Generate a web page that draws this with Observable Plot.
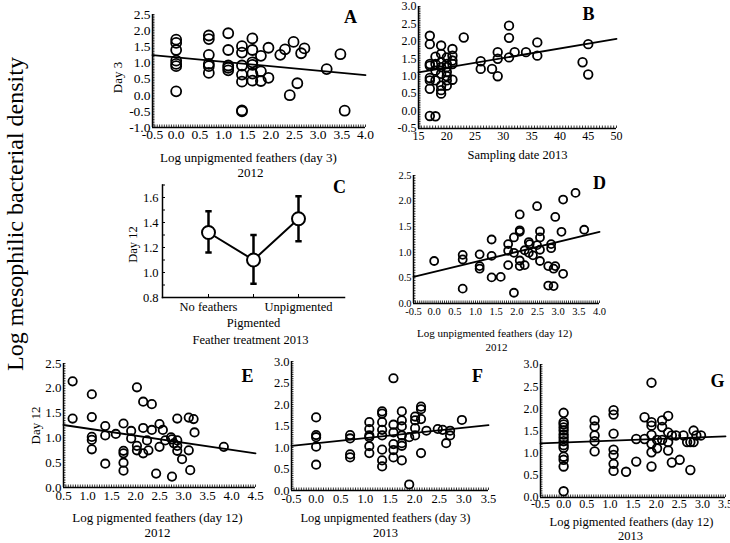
<!DOCTYPE html>
<html><head><meta charset="utf-8">
<script src="https://cdn.jsdelivr.net/npm/d3@7"></script>
<script src="https://cdn.jsdelivr.net/npm/@observablehq/plot@0.6"></script>
<style>
body{margin:0;background:white;}
#chart{position:relative;width:730px;height:543px;overflow:hidden;font-family:"Liberation Serif","Times New Roman",serif;color:black;}
#chart svg{position:absolute;left:0;top:0;}
#ylab{position:absolute;left:15px;top:214px;transform:translate(-50%,-50%) rotate(-90deg);font-size:24px;white-space:nowrap;}
</style></head><body>
<div id="chart"><div id="ylab">Log mesophilic bacterial density</div></div>
<script>
// ---------- DATA ----------
// Panel A: 2012, log unpigmented feathers (day 3) vs day-3 density
const aPts = [[0,1.72],[0,1.62],[0,1.40],[0,1.07],[0,0.97],[0,0.90],[0,0.12],
  [0.69,1.85],[0.69,1.74],[0.69,1.25],[0.69,0.97],[0.69,0.90],[0.69,0.69],
  [1.10,1.92],[1.10,1.40],[1.10,0.92],[1.10,0.85],[1.10,0.77],
  [1.39,1.52],[1.39,1.32],[1.39,0.92],[1.39,0.64],[1.39,0.42],[1.39,-0.50],[1.39,-0.47],
  [1.61,1.76],[1.61,1.40],[1.61,1.02],[1.61,0.94],[1.61,0.67],[1.61,0.45],
  [1.79,1.22],[1.79,0.74],[1.79,0.44],[1.95,1.47],[1.95,0.54],
  [2.20,1.25],[2.30,1.42],[2.40,0.00],[2.48,1.65],[2.56,0.37],[2.64,1.30],[2.71,1.45],
  [3.18,0.81],[3.47,1.27],[3.56,-0.48]];
const aLineX = [-0.5, 4.0], aLineY = [1.24, 0.62];
const aTicksX = [-0.5,0,0.5,1,1.5,2,2.5,3,3.5,4];
const aTicksY = [-1,-0.5,0,0.5,1,1.5,2,2.5];

// Panel B: sampling date 2013
const bPts = [[17,2.16],[17,1.92],[17,1.35],[17,1.30],[17,0.95],[17,0.88],[17,0.64],[17,-0.14],
  [18,1.56],[18,1.35],[18,1.16],[18,0.88],[18,-0.15],
  [19,1.88],[19,1.64],[19,1.40],[19,1.26],[19,1.07],[19,0.73],[19,0.60],[19,0.50],
  [20,1.54],[20,1.35],[20,1.26],[20,1.12],[20,1.00],[20,0.88],[20,0.73],
  [21,1.78],[21,1.59],[21,1.45],[21,1.35],[21,0.90],
  [23,2.11],[26,1.43],[26,1.21],[28,1.21],[29,1.69],[29,1.50],[29,1.00],
  [31,2.45],[31,2.10],[31,1.54],[32,1.69],[34,1.69],[36,1.97],[36,1.59],
  [44,1.40],[45,1.92],[45,1.05]];
const bLineX = [15, 50], bLineY = [1.11, 2.07];
const bTicksX = [15,20,25,30,35,40,45,50];
const bTicksY = [-0.5,0,0.5,1,1.5,2,2.5,3];

// Panel C: feather treatment 2013 (means and error bars)
const cCats = ["No feathers", "Pigmented", "Unpigmented"];
const cMean = [1.32, 1.10, 1.43];
const cLo = [1.16, 0.91, 1.25];
const cHi = [1.49, 1.30, 1.61];
const cTicksY = [0.8,1.0,1.2,1.4,1.6];

// Panel D: 2012, log unpigmented feathers (day 12)
const dPts = [[0,0.83],[0.69,0.95],[0.69,0.86],[0.69,0.29],
  [1.10,0.96],[1.10,0.73],[1.10,0.68],[1.39,1.25],[1.39,0.93],[1.39,0.51],[1.61,0.52],
  [1.79,1.16],[1.79,1.03],[1.79,0.75],[1.93,1.29],[1.93,0.99],[1.93,0.21],
  [2.07,1.74],[2.07,1.43],[2.07,1.40],[2.07,0.84],[2.07,0.73],[2.19,1.04],[2.19,0.75],
  [2.29,1.20],[2.31,1.16],[2.29,0.99],[2.39,0.94],[2.49,1.90],[2.49,1.14],
  [2.56,1.41],[2.56,1.29],[2.56,1.05],[2.56,0.83],[2.76,0.73],[2.76,0.35],
  [2.83,1.16],[2.83,1.08],[2.89,0.68],[2.89,0.34],[2.93,1.69],[2.93,0.73],
  [3.08,1.40],[3.12,0.58],[3.12,2.03],[3.42,2.16],[3.63,1.44]];
const dLineX = [-0.5, 4.0], dLineY = [0.52, 1.40];
const dTicksX = [-0.5,0,0.5,1,1.5,2,2.5,3,3.5,4];
const dTicksY = [0,0.5,1,1.5,2,2.5];

// Panel E: 2012, log pigmented feathers (day 12)
const ePts = [[0.69,2.14],[0.69,1.39],[1.09,1.88],[1.09,1.42],[1.09,1.02],[1.09,0.96],[1.09,0.77],
  [1.37,1.24],[1.37,1.05],[1.37,0.48],[1.59,1.08],
  [1.75,1.29],[1.75,0.74],[1.75,0.69],[1.75,0.50],[1.75,0.34],[1.91,1.14],[1.91,0.99],
  [2.03,2.02],[2.03,0.84],[2.03,0.75],[2.16,1.73],[2.16,1.20],[2.16,0.69],
  [2.24,0.95],[2.27,0.75],[2.34,1.68],[2.34,1.16],[2.43,0.28],[2.50,1.28],[2.50,0.82],
  [2.57,1.16],[2.62,0.95],[2.74,1.01],[2.76,0.97],[2.76,0.22],[2.80,0.89],
  [2.87,1.39],[2.87,0.95],[2.87,0.84],[2.87,0.74],[2.97,0.57],
  [3.11,1.41],[3.11,0.75],[3.14,0.35],[3.21,1.38],[3.23,1.11],[3.84,0.82]];
const eLineX = [0.5, 4.5], eLineY = [1.26, 0.69];
const eTicksX = [0.5,1,1.5,2,2.5,3,3.5,4,4.5];
const eTicksY = [0,0.5,1,1.5,2,2.5];

// Panel F: 2013, log unpigmented feathers (day 3)
const fPts = [[0,1.70],[0,1.29],[0,1.24],[0,1.02],[0,0.60],
  [0.69,1.29],[0.69,1.21],[0.69,0.84],[0.69,0.77],
  [1.08,1.59],[1.08,1.43],[1.08,1.28],[1.08,1.24],[1.08,1.03],[1.08,0.87],
  [1.34,1.84],[1.34,1.79],[1.34,1.59],[1.34,1.41],[1.34,1.28],[1.34,0.95],[1.34,0.70],[1.34,0.56],
  [1.57,2.61],[1.57,1.53],[1.57,1.35],[1.57,1.08],[1.57,0.94],[1.57,0.77],
  [1.74,1.84],[1.74,1.63],[1.74,1.49],[1.74,1.28],[1.74,1.10],[1.74,1.04],[1.74,0.70],
  [1.89,1.24],[1.89,0.14],[2.01,1.72],[2.01,1.63],[2.01,1.45],[2.01,1.28],
  [2.13,1.95],[2.13,1.89],[2.13,1.66],[2.13,0.87],[2.24,1.39],[2.47,1.43],[2.57,1.41],
  [2.64,1.10],[2.72,1.39],[2.72,1.28],[2.96,1.64]];
const fLineX = [-0.5, 3.5], fLineY = [1.04, 1.52];
const fTicksX = [-0.5,0,0.5,1,1.5,2,2.5,3,3.5];
const fTicksY = [0,0.5,1,1.5,2,2.5,3];

// Panel G: 2013, log pigmented feathers (day 12)
const gPts = [[0,1.91],[0,1.70],[0,1.65],[0,1.58],[0,1.51],[0,1.42],[0,1.35],[0,1.27],[0,1.18],[0,1.12],
  [0,0.92],[0,0.85],[0,0.70],[0,0.14],
  [0.67,1.74],[0.67,1.60],[0.67,1.40],[0.67,1.27],[0.67,1.04],
  [1.08,1.97],[1.08,1.87],[1.08,1.44],[1.08,1.08],[1.08,0.96],[1.08,0.76],[1.08,0.60],
  [1.35,0.58],[1.57,1.32],[1.57,0.81],[1.75,1.81],[1.75,1.32],
  [1.90,2.59],[1.90,1.70],[1.90,1.62],[1.90,1.41],[1.90,1.21],[1.90,1.02],[1.90,0.70],
  [2.02,1.30],[2.02,1.11],[2.13,1.74],[2.13,1.59],[2.13,1.30],
  [2.26,1.84],[2.26,1.47],[2.26,1.25],[2.26,1.06],[2.34,1.40],[2.34,0.79],[2.43,1.40],
  [2.51,0.85],[2.59,1.40],[2.67,1.25],[2.74,1.25],[2.74,0.62],[2.81,1.51],[2.81,1.25],
  [2.87,1.40],[2.97,1.40]];
const gLineX = [-0.5, 3.5], gLineY = [1.22, 1.38];
const gTicksX = [-0.5,0,0.5,1,1.5,2,2.5,3,3.5];
const gTicksY = [0,0.5,1,1.5,2,2.5,3];

// ---------- LAYOUT ----------
const W = 730, H = 543;
const FONT = '"Liberation Serif","Times New Roman",serif';
const fmt1 = d => d.toFixed(1);
const fmt0 = d => String(d);
const chart = document.getElementById("chart");

function textAt(txt, anchor, dx, dy, size, extra = {}) {
  return Plot.text([txt], {text: d => d, frameAnchor: anchor, dx, dy, fontSize: size,
    textAnchor: "middle", lineAnchor: "middle", ...extra});
}

function scatterPanel(o) {
  const [l, t, r, b] = o.frame;
  const iw = r - l, ih = b - t, cx = (l + r) / 2, cy = (t + b) / 2;
  const minorX = d3.range(o.xDomain[0], o.xDomain[1] + 1e-9, o.minorX);
  const minorY = d3.range(o.yDomain[0], o.yDomain[1] + 1e-9, o.minorY);
  const marks = [
    Plot.tickX(minorX, {x: d => d, insetTop: ih - 2.5, strokeWidth: 0.8}),
    Plot.tickY(minorY, {y: d => d, insetRight: iw - 2.5, strokeWidth: 0.8}),
    Plot.ruleX([o.xDomain[0]], {strokeWidth: 1.5}),
    Plot.ruleY([o.yDomain[0]], {strokeWidth: 1.5}),
    Plot.line(o.lineX, {x: o.lineX, y: o.lineY, strokeWidth: 1.8}),
    Plot.dot(o.pts, {x: d => d[0], y: d => d[1], r: o.r, fill: "none", stroke: "black", strokeWidth: 1.8}),
    textAt(o.letter[0], "top-left", o.letter[1] - l, o.letter[2] - t, 18, {fontWeight: "bold"})
  ];
  for (const [txt, x, y] of o.xTitles) marks.push(textAt(txt, "bottom", x - cx, y - b, o.titleFont));
  if (o.yTitle) marks.push(textAt(o.yTitle[0], "left", o.yTitle[1] - l, o.yTitle[2] - cy, o.titleFont, {rotate: -90}));
  const svg = Plot.plot({
    width: W, height: H,
    marginLeft: l, marginTop: t, marginRight: W - r, marginBottom: H - b,
    style: {fontFamily: FONT, fontSize: o.tickFont + "px", background: "transparent", overflow: "visible", color: "black"},
    x: {domain: o.xDomain, ticks: o.xTicks, tickFormat: o.xFmt || fmt1, tickSize: 0, tickPadding: o.xPad, label: null},
    y: {domain: o.yDomain, ticks: o.yTicks, tickFormat: fmt1, tickSize: 0, tickPadding: 2, label: null},
    marks
  });
  chart.appendChild(svg);
}

// A
scatterPanel({pts: aPts, lineX: aLineX, lineY: aLineY, xTicks: aTicksX, yTicks: aTicksY,
  xDomain: [-0.5, 4], yDomain: [-1, 2.5], frame: [152, 14, 365, 127], minorX: 0.05, minorY: 0.05,
  r: 5, tickFont: 13.5, titleFont: 13, xPad: 2, letter: ["A", 350, 17],
  xTitles: [["Log unpigmented feathers (day 3)", 248, 157], ["2012", 250, 172]], yTitle: ["Day 3", 117, 77]});
// B
scatterPanel({pts: bPts, lineX: bLineX, lineY: bLineY, xTicks: bTicksX, yTicks: bTicksY, xFmt: fmt0,
  xDomain: [15, 50], yDomain: [-0.5, 3], frame: [418, 6, 616, 128], minorX: 0.5, minorY: 0.05,
  r: 4.3, tickFont: 12, titleFont: 12.5, xPad: 3, letter: ["B", 588, 14],
  xTitles: [["Sampling date 2013", 517, 154]]});
// D
scatterPanel({pts: dPts, lineX: dLineX, lineY: dLineY, xTicks: dTicksX, yTicks: dTicksY,
  xDomain: [-0.5, 4], yDomain: [0, 2.5], frame: [413, 175, 599, 303], minorX: 0.05, minorY: 0.05,
  r: 4, tickFont: 10.5, titleFont: 11, xPad: 4, letter: ["D", 599, 183],
  xTitles: [["Log unpigmented feathers (day 12)", 494, 333], ["2012", 496, 347]]});
// E
scatterPanel({pts: ePts, lineX: eLineX, lineY: eLineY, xTicks: eTicksX, yTicks: eTicksY,
  xDomain: [0.5, 4.5], yDomain: [0, 2.5], frame: [63, 363, 255, 487], minorX: 0.05, minorY: 0.05,
  r: 4.2, tickFont: 13, titleFont: 13, xPad: 3, letter: ["E", 247, 376],
  xTitles: [["Log pigmented feathers (day 12)", 157, 517], ["2012", 157, 532]], yTitle: ["Day 12", 35, 425]});
// F
scatterPanel({pts: fPts, lineX: fLineX, lineY: fLineY, xTicks: fTicksX, yTicks: fTicksY,
  xDomain: [-0.5, 3.5], yDomain: [0, 3], frame: [291, 361, 488, 490], minorX: 0.05, minorY: 0.05,
  r: 4.2, tickFont: 12.5, titleFont: 12.5, xPad: 4, letter: ["F", 477, 376],
  xTitles: [["Log unpigmented feathers (day 3)", 385, 517], ["2013", 385, 532]]});
// G
scatterPanel({pts: gPts, lineX: gLineX, lineY: gLineY, xTicks: gTicksX, yTicks: gTicksY,
  xDomain: [-0.5, 3.5], yDomain: [0, 3], frame: [540, 364, 725, 497], minorX: 0.05, minorY: 0.05,
  r: 4.3, tickFont: 12, titleFont: 12.5, xPad: 2, letter: ["G", 717, 381],
  xTitles: [["Log pigmented feathers (day 12)", 631, 521], ["2013", 630, 535]]});

// C
(function () {
  const l = 162, t = 184.5, r = 344, b = 297;
  const iw = r - l, ih = b - t, cx = (l + r) / 2, cy = (t + b) / 2;
  const capSymbol = {draw(ctx, size) { const w = Math.sqrt(size); ctx.moveTo(-w / 2, 0); ctx.lineTo(w / 2, 0); }};
  const svg = Plot.plot({
    width: W, height: H,
    marginLeft: l, marginTop: t, marginRight: W - r, marginBottom: H - b,
    style: {fontFamily: FONT, fontSize: "12.5px", background: "transparent", overflow: "visible", color: "black"},
    x: {type: "point", domain: cCats, padding: 1, axis: null},
    y: {domain: [0.8, 1.7], ticks: cTicksY, tickFormat: fmt1, tickSize: 0, tickPadding: 4, label: null},
    marks: [
      Plot.tickY(d3.range(0.8, 1.701, 0.1), {y: d => d, insetRight: iw - 3, strokeWidth: 1}),
      Plot.tickX(cCats, {x: d => d, insetTop: ih - 3, strokeWidth: 1}),
      Plot.frame({anchor: "left", strokeWidth: 1.5}),
      Plot.frame({anchor: "bottom", strokeWidth: 1.5}),
      Plot.ruleX(cCats, {x: cCats, y1: cLo, y2: cHi, strokeWidth: 2.5}),
      Plot.dot(cCats, {x: cCats, y: cLo, symbol: capSymbol, r: 3.6, fill: "none", stroke: "black", strokeWidth: 2.5}),
      Plot.dot(cCats, {x: cCats, y: cHi, symbol: capSymbol, r: 3.6, fill: "none", stroke: "black", strokeWidth: 2.5}),
      Plot.line(cCats, {x: cCats, y: cMean, strokeWidth: 2}),
      Plot.dot(cCats, {x: cCats, y: cMean, r: 6.5, fill: "white", stroke: "black", strokeWidth: 2}),
      Plot.text(cCats, {x: d => d, filter: (d, i) => i !== 1, frameAnchor: "bottom", dy: 9, lineAnchor: "middle", text: d => d}),
      Plot.text(cCats, {x: d => d, filter: (d, i) => i === 1, frameAnchor: "bottom", dy: 25, lineAnchor: "middle", text: d => d}),
      textAt("Feather treatment 2013", "bottom", 250 - cx, 339 - b, 12.5),
      textAt("Day 12", "left", 132 - l, 244 - cy, 12.5, {rotate: -90}),
      textAt("C", "top-left", 339 - l, 187 - t, 18, {fontWeight: "bold"})
    ]
  });
  chart.appendChild(svg);
})();
</script></body></html>
